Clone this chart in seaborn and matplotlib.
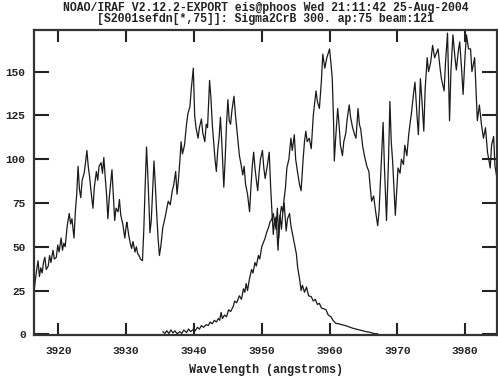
import numpy as np
import pandas as pd
import matplotlib
matplotlib.use("Agg")
import matplotlib.pyplot as plt
import seaborn as sns

title_lines = ["NOAO/IRAF V2.12.2-EXPORT eis@phoos Wed 21:11:42 25-Aug-2004",
               "[S2001sefdn[*,75]]: Sigma2CrB 300. ap:75 beam:121"]
x_label = "Wavelength (angstroms)"
x_ticks = [3920, 3930, 3940, 3950, 3960, 3970, 3980]
y_ticks = [0, 25, 50, 75, 100, 125, 150]

# broad spectrum
wave_a = [3916.4, 3916.6, 3916.8, 3917.0, 3917.2, 3917.4, 3917.6, 3917.8, 3918.0, 3918.2,
          3918.5, 3918.7, 3918.9, 3919.2, 3919.4, 3919.7, 3919.9, 3920.1, 3920.4, 3920.6,
          3920.8, 3921.0, 3921.3, 3921.6, 3921.8, 3922.0, 3922.3, 3922.5, 3922.7, 3922.9,
          3923.1, 3923.3, 3923.5, 3923.8, 3924.0, 3924.2, 3924.4, 3924.6, 3924.8, 3925.0,
          3925.1, 3925.3, 3925.6, 3925.8, 3926.0, 3926.3, 3926.5, 3926.7, 3926.9, 3927.1,
          3927.3, 3927.5, 3927.7, 3927.9, 3928.1, 3928.3, 3928.5, 3928.8, 3929.0, 3929.2,
          3929.5, 3929.8, 3930.0, 3930.1, 3930.4, 3930.6, 3930.8, 3931.0, 3931.3, 3931.5,
          3931.7, 3931.9, 3932.1, 3932.4, 3932.6, 3932.8, 3933.0, 3933.2, 3933.4, 3933.5,
          3933.7, 3933.9, 3934.1, 3934.3, 3934.5, 3934.7, 3934.9, 3935.1, 3935.4, 3935.7,
          3936.0, 3936.2, 3936.5, 3936.8, 3937.0, 3937.3, 3937.5, 3937.7, 3937.9, 3938.1,
          3938.3, 3938.6, 3938.9, 3939.1, 3939.4, 3939.6, 3939.9, 3940.1, 3940.3, 3940.6,
          3940.8, 3941.1, 3941.3, 3941.6, 3941.8, 3942.0, 3942.3, 3942.5, 3942.7, 3942.9,
          3943.1, 3943.3, 3943.5, 3943.7, 3943.9, 3944.1, 3944.4, 3944.6, 3944.8, 3945.0,
          3945.2, 3945.4, 3945.6, 3945.9, 3946.1, 3946.3, 3946.5, 3946.7, 3946.9, 3947.2,
          3947.4, 3947.6, 3947.9, 3948.2, 3948.4, 3948.6, 3948.8, 3949.0, 3949.2, 3949.4,
          3949.6, 3949.8, 3950.1, 3950.3, 3950.5, 3950.8, 3951.1, 3951.3, 3951.5, 3951.7,
          3951.9, 3952.1, 3952.3, 3952.5, 3952.7, 3952.9, 3953.2, 3953.5, 3953.7, 3954.0,
          3954.3, 3954.5, 3954.8, 3955.0, 3955.3, 3955.6, 3955.8, 3956.1, 3956.3, 3956.5,
          3956.7, 3957.0, 3957.3, 3957.6, 3958.0, 3958.2, 3958.5, 3958.8, 3959.0, 3959.3,
          3959.6, 3960.0, 3960.2, 3960.4, 3960.6, 3960.7, 3960.9, 3961.2, 3961.4, 3961.6,
          3961.9, 3962.1, 3962.4, 3962.6, 3962.9, 3963.1, 3963.4, 3963.7, 3963.9, 3964.2,
          3964.4, 3964.6, 3964.9, 3965.2, 3965.5, 3965.8, 3966.0, 3966.2, 3966.5, 3966.8,
          3967.1, 3967.3, 3967.6, 3967.9, 3968.1, 3968.4, 3968.7, 3968.9, 3969.1, 3969.3,
          3969.7, 3969.9, 3970.1, 3970.4, 3970.6, 3970.9, 3971.1, 3971.4, 3971.7, 3972.1,
          3972.4, 3972.6, 3972.9, 3973.1, 3973.4, 3973.6, 3973.9, 3974.1, 3974.4, 3974.6,
          3974.9, 3975.2, 3975.5, 3975.7, 3976.0, 3976.3, 3976.5, 3976.9, 3977.1, 3977.4,
          3977.7, 3977.9, 3978.2, 3978.5, 3978.7, 3979.0, 3979.2, 3979.5, 3979.7, 3980.0,
          3980.2, 3980.5, 3980.8, 3981.0, 3981.4, 3981.6, 3981.8, 3982.1, 3982.4, 3982.7,
          3983.0, 3983.3, 3983.7, 3983.9, 3984.2, 3984.4, 3984.8, 3985.2]
flux_a = [24, 31, 37, 42, 33, 38, 35, 41, 44, 37,
          39, 45, 41, 48, 43, 44, 51, 47, 55, 48,
          52, 50, 62, 69, 63, 66, 55, 70, 80, 96,
          83, 78, 88, 92, 98, 105, 96, 90, 82, 75,
          72, 84, 93, 88, 96, 98, 92, 101, 90, 80,
          66, 78, 86, 94, 80, 65, 72, 70, 77, 68,
          63, 55, 62, 64, 56, 52, 49, 53, 47, 50,
          46, 45, 43, 42, 60, 85, 107, 90, 70, 58,
          65, 82, 99, 85, 69, 55, 45, 50, 61, 66,
          72, 76, 74, 82, 85, 93, 80, 88, 98, 110,
          103, 108, 120, 126, 130, 140, 152, 125, 118, 112,
          118, 123, 115, 110, 120, 118, 145, 135, 120, 110,
          100, 93, 105, 112, 124, 110, 84, 100, 120, 134,
          122, 120, 128, 136, 126, 118, 110, 102, 98, 91,
          96, 86, 80, 70, 84, 96, 104, 95, 88, 82,
          92, 100, 105, 95, 89, 96, 104, 85, 70, 57,
          66, 60, 72, 55, 68, 60, 74, 84, 95, 100,
          112, 105, 114, 100, 92, 85, 82, 100, 110, 116,
          110, 112, 106, 125, 139, 133, 129, 145, 160, 152,
          158, 163, 155, 146, 120, 99, 112, 129, 120, 108,
          102, 110, 115, 123, 131, 124, 118, 114, 112, 129,
          120, 117, 107, 101, 96, 93, 84, 76, 79, 70,
          62, 70, 95, 121, 95, 65, 100, 133, 110, 99,
          68, 82, 95, 92, 100, 97, 108, 102, 115, 127,
          138, 144, 125, 114, 146, 135, 116, 140, 158, 150,
          155, 165, 158, 160, 163, 152, 146, 139, 155, 172,
          122, 150, 171, 158, 151, 162, 167, 150, 137, 160,
          171, 163, 163, 150, 158, 140, 122, 131, 120, 112,
          118, 104, 95, 108, 113, 96, 87, 104]

# emission-like peaked spectrum
wave_b = [3935.4, 3935.7, 3936.0, 3936.3, 3936.6, 3936.9, 3937.2, 3937.5, 3937.9, 3938.2,
          3938.5, 3938.9, 3939.2, 3939.5, 3939.9, 3940.2, 3940.5, 3940.8, 3941.1, 3941.4,
          3941.8, 3942.1, 3942.4, 3942.7, 3943.0, 3943.3, 3943.6, 3943.8, 3944.0, 3944.2,
          3944.5, 3944.8, 3945.1, 3945.4, 3945.8, 3946.0, 3946.3, 3946.7, 3947.0, 3947.3,
          3947.5, 3947.7, 3947.9, 3948.2, 3948.5, 3948.7, 3949.0, 3949.2, 3949.5, 3949.7,
          3950.0, 3950.2, 3950.5, 3950.7, 3951.0, 3951.2, 3951.5, 3951.7, 3951.9, 3952.1,
          3952.4, 3952.6, 3952.9, 3953.1, 3953.3, 3953.6, 3953.8, 3954.1, 3954.3, 3954.6,
          3954.9, 3955.1, 3955.3, 3955.6, 3955.8, 3956.0, 3956.3, 3956.6, 3956.9, 3957.3,
          3957.6, 3957.9, 3958.2, 3958.5, 3958.8, 3959.2, 3959.5, 3959.8, 3960.2, 3960.5,
          3960.9, 3961.3, 3961.8, 3962.4, 3962.9, 3963.4, 3963.9, 3964.4, 3964.9, 3965.4,
          3965.9, 3966.4, 3966.9, 3967.1]
flux_b = [1.5, 0.5, 2, 0.5, 2.5, 0.8, 2, 0.3, 1.5, 0.5,
          2.5, 1, 3, 1.5, 2.8, 2, 4, 3, 5, 4,
          5.5, 5, 7, 6, 8, 7, 9, 8, 12.5, 9,
          11, 10, 14, 13, 16, 19, 18, 22, 20, 26,
          24, 29, 25, 32, 37, 35, 41, 39, 45, 43,
          50, 52, 55, 58, 61, 64, 66, 69, 64, 67,
          48, 65, 73, 70, 75, 59, 66, 69, 62, 56,
          50, 46, 38, 31, 25, 28, 24, 27, 22, 21.5,
          19, 20, 17, 17.7, 15, 14.5, 13.9, 11, 10, 8,
          6.3, 6, 5.5, 4.9, 4.2, 3.5, 3, 2.5, 2, 1.5,
          1.2, 0.6, 0.2, 0.4]

sns.set_style("ticks")
font = ["Liberation Mono", "DejaVu Sans Mono"]
plt.rcParams["font.family"] = font
plt.rcParams["font.weight"] = "bold"

fig = plt.figure(figsize=(4.98, 3.81), dpi=100)
ax = fig.add_axes([34 / 498, 1 - 335 / 381, 463 / 498, 305 / 381])

df_a = pd.DataFrame({"wave": wave_a, "flux": flux_a})
df_b = pd.DataFrame({"wave": wave_b, "flux": flux_b})
sns.lineplot(data=df_a, x="wave", y="flux", ax=ax, color="#1a1a1a", lw=0.9,
             sort=False, estimator=None)
sns.lineplot(data=df_b, x="wave", y="flux", ax=ax, color="#1a1a1a", lw=0.9,
             sort=False, estimator=None)

ax.set_xlim(3916.4, 3984.7)
ax.set_ylim(-0.4, 173.8)
ax.set_xticks(x_ticks)
ax.set_yticks(y_ticks)
ax.set_xticklabels([str(t) for t in x_ticks], fontsize=8, fontweight="bold")
ax.set_yticklabels([str(t) for t in y_ticks], fontsize=8, fontweight="bold")
ax.tick_params(axis="both", direction="in", top=True, right=True, width=1.5,
               color="#222222", labelcolor="#222222")
ax.tick_params(axis="y", length=11, pad=6)
ax.tick_params(axis="x", length=8.5, pad=8)
for s in ax.spines.values():
    s.set_visible(True)
    s.set_linewidth(1.6)
    s.set_color("#333333")
ax.set_xlabel(x_label, fontsize=8.5, fontweight="bold", color="#222222", labelpad=6)
ax.set_ylabel("")
fig.text(265.5 / 498, 1 - 7.5 / 381, title_lines[0], ha="center", va="center",
         fontsize=8.3, fontweight="bold", color="#222222")
fig.text(265.5 / 498, 1 - 19 / 381, title_lines[1], ha="center", va="center",
         fontsize=8.3, fontweight="bold", color="#222222")

fig.savefig("out.png", dpi=100)
